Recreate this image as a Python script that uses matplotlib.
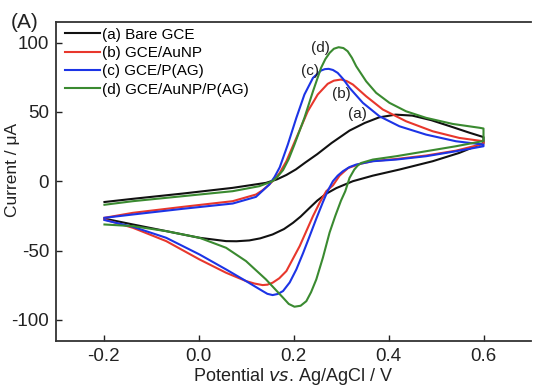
import matplotlib
matplotlib.use("Agg")
import matplotlib.pyplot as plt

plt.rcParams['font.family'] = ['Liberation Sans', 'DejaVu Sans']

# (a) Bare GCE: forward (anodic) then reverse (cathodic) scan
a_E = [-0.198, -0.138, -0.033, 0.072, 0.142, 0.165, 0.185, 0.205, 0.225, 0.25, 0.28, 0.318, 0.35, 0.38, 0.415, 0.45, 0.49, 0.535, 0.57, 0.60,
       0.60, 0.549, 0.493, 0.423, 0.367, 0.325, 0.29, 0.269, 0.25, 0.234, 0.215, 0.199, 0.18, 0.156, 0.13, 0.107, 0.08, 0.058, 0.002, -0.068, -0.138, -0.198]
a_I = [-15.0, -12.7, -8.9, -4.8, -1.2, 1.3, 4.5, 8.5, 13.5, 19.5, 27.5, 36.5, 42.0, 46.0, 48.0, 47.3, 44.0, 39.0, 35.0, 31.8,
       27.5, 20.4, 14.4, 8.4, 4.0, 0.0, -5.0, -9.0, -14.0, -19.2, -25.5, -30.0, -34.5, -38.4, -41.2, -42.7, -43.3, -43.2, -40.8, -36.0, -31.2, -27.0]

# (b) GCE/AuNP
b_E = [-0.198, -0.138, -0.033, 0.072, 0.121, 0.135, 0.149, 0.16, 0.171, 0.185, 0.209, 0.230, 0.251, 0.272, 0.285, 0.300, 0.312, 0.325, 0.353, 0.388, 0.437, 0.493, 0.549, 0.60,
       0.60, 0.542, 0.479, 0.416, 0.367, 0.34, 0.315, 0.297, 0.283, 0.269, 0.255, 0.241, 0.213, 0.185, 0.17, 0.156, 0.145, 0.135, 0.118, 0.100, 0.058, 0.002, -0.068, -0.138, -0.198]
b_I = [-26.4, -22.8, -18.5, -14.4, -9.6, -6.5, -2.4, 1.5, 6.0, 14.4, 33.6, 50.4, 62.5, 70.2, 72.5, 73.3, 72.2, 69.7, 61.2, 51.7, 43.2, 36.0, 31.2, 28.8,
       27.0, 22.0, 18.5, 16.0, 14.5, 12.5, 9.5, 4.0, -3.0, -7.2, -15.5, -25.2, -46.8, -64.8, -70.0, -73.2, -74.6, -74.9, -73.8, -72.0, -66.0, -56.4, -43.2, -33.6, -27.6]

# (c) GCE/P(AG)
c_E = [-0.198, -0.138, -0.033, 0.072, 0.121, 0.149, 0.160, 0.171, 0.188, 0.206, 0.223, 0.241, 0.258, 0.266, 0.274, 0.283, 0.293, 0.305, 0.318, 0.346, 0.381, 0.423, 0.479, 0.542, 0.60,
       0.60, 0.542, 0.479, 0.416, 0.367, 0.332, 0.318, 0.304, 0.293, 0.283, 0.272, 0.262, 0.248, 0.234, 0.22, 0.206, 0.192, 0.178, 0.167, 0.156, 0.145, 0.135, 0.100, 0.058, 0.002, -0.068, -0.138, -0.198]
c_I = [-26.4, -24.0, -19.9, -16.1, -11.3, -2.4, 3.0, 10.0, 26.4, 45.7, 62.5, 74.5, 79.8, 80.8, 81.0, 80.2, 78.1, 73.5, 67.3, 56.5, 46.8, 39.6, 33.6, 28.8, 26.4,
       25.2, 21.6, 18.0, 15.6, 14.4, 12.0, 10.2, 7.2, 4.0, 0.0, -7.0, -15.0, -27.0, -39.6, -52.0, -63.6, -73.0, -79.2, -81.3, -82.1, -81.2, -79.2, -72.0, -63.6, -52.8, -40.8, -32.9, -28.0]

# (d) GCE/AuNP/P(AG)
d_E = [-0.198, -0.138, -0.033, 0.072, 0.128, 0.156, 0.167, 0.178, 0.19, 0.202, 0.223, 0.241, 0.258, 0.267, 0.276, 0.285, 0.295, 0.305, 0.314, 0.323, 0.332, 0.353, 0.374, 0.402, 0.437, 0.479, 0.535, 0.592, 0.60,
       0.60, 0.542, 0.479, 0.416, 0.367, 0.343, 0.335, 0.328, 0.318, 0.309, 0.300, 0.288, 0.276, 0.262, 0.248, 0.237, 0.227, 0.215, 0.202, 0.19, 0.178, 0.142, 0.100, 0.058, 0.002, -0.068, -0.138, -0.198]
d_I = [-17.0, -14.4, -10.8, -7.2, -3.6, 0.0, 3.5, 8.0, 16.0, 26.4, 45.7, 64.8, 81.7, 88.0, 92.5, 95.5, 96.6, 96.0, 93.7, 89.0, 82.9, 72.0, 63.7, 56.5, 50.4, 45.7, 41.3, 38.5, 38.0,
       29.0, 25.2, 21.6, 18.0, 15.6, 13.2, 11.2, 8.4, 2.4, -7.2, -14.0, -25.0, -37.0, -55.0, -70.8, -80.0, -86.5, -89.8, -90.5, -88.5, -84.0, -70.8, -57.6, -48.0, -40.8, -36.0, -32.4, -31.2]

labels = ['(a) Bare GCE', '(b) GCE/AuNP', '(c) GCE/P(AG)', '(d) GCE/AuNP/P(AG)']
colors = ['#111111', '#e8372c', '#1c34e6', '#3a8a30']
tags = ['(a)', '(b)', '(c)', '(d)']
tag_pos = [(0.335, 48.8), (0.300, 63.2), (0.234, 79.3), (0.257, 96.1)]

xticks = [-0.2, 0.0, 0.2, 0.4, 0.6]
yticks = [-100, -50, 0, 50, 100]

fig = plt.figure(figsize=(5.33, 3.90), dpi=100)
ax = fig.add_axes([56/533, 1-340.7/390, 475/533, (340.7-21.7)/390])

for E, I, c, l in zip([a_E, b_E, c_E, d_E], [a_I, b_I, c_I, d_I], colors, labels):
    ax.plot(E, I, color=c, lw=1.5, label=l, solid_joinstyle='round')

for t, (x, y) in zip(tags, tag_pos):
    ax.text(x, y, t, fontsize=11, ha='center', va='center', color='#222222')

ax.set_xlim(-0.3, 0.7)
ax.set_ylim(-115, 115)
ax.set_xticks(xticks)
ax.set_xticklabels(['-0.2', '0.0', '0.2', '0.4', '0.6'])
ax.set_yticks(yticks)
ax.set_yticklabels([str(v) for v in yticks])
ax.tick_params(direction='in', length=4, width=1, labelsize=13.5, colors='#222222', pad=5)
ax.spines['right'].set_visible(False)
for s in ['left', 'top', 'bottom']:
    ax.spines[s].set_linewidth(1.3)
    ax.spines[s].set_color('#333333')

ax.set_xlabel(r'Potential $\mathit{vs}$. Ag/AgCl / V', fontsize=13, color='#222222', labelpad=1)
ax.set_ylabel('Current / μA', fontsize=12.5, color='#222222')
ax.yaxis.set_label_coords((20 - 56) / 475, (340.7 - 170) / 319)

leg = ax.legend(loc='upper left', frameon=False, fontsize=11, handlelength=2.3, handletextpad=0.15,
                labelspacing=0.28, borderaxespad=0.0, bbox_to_anchor=(0.006, 1.0))
fig.text(25/533, 1-23/390, '(A)', fontsize=15, ha='center', va='center', color='#222222')

fig.savefig('out.png', dpi=100, facecolor='white')
